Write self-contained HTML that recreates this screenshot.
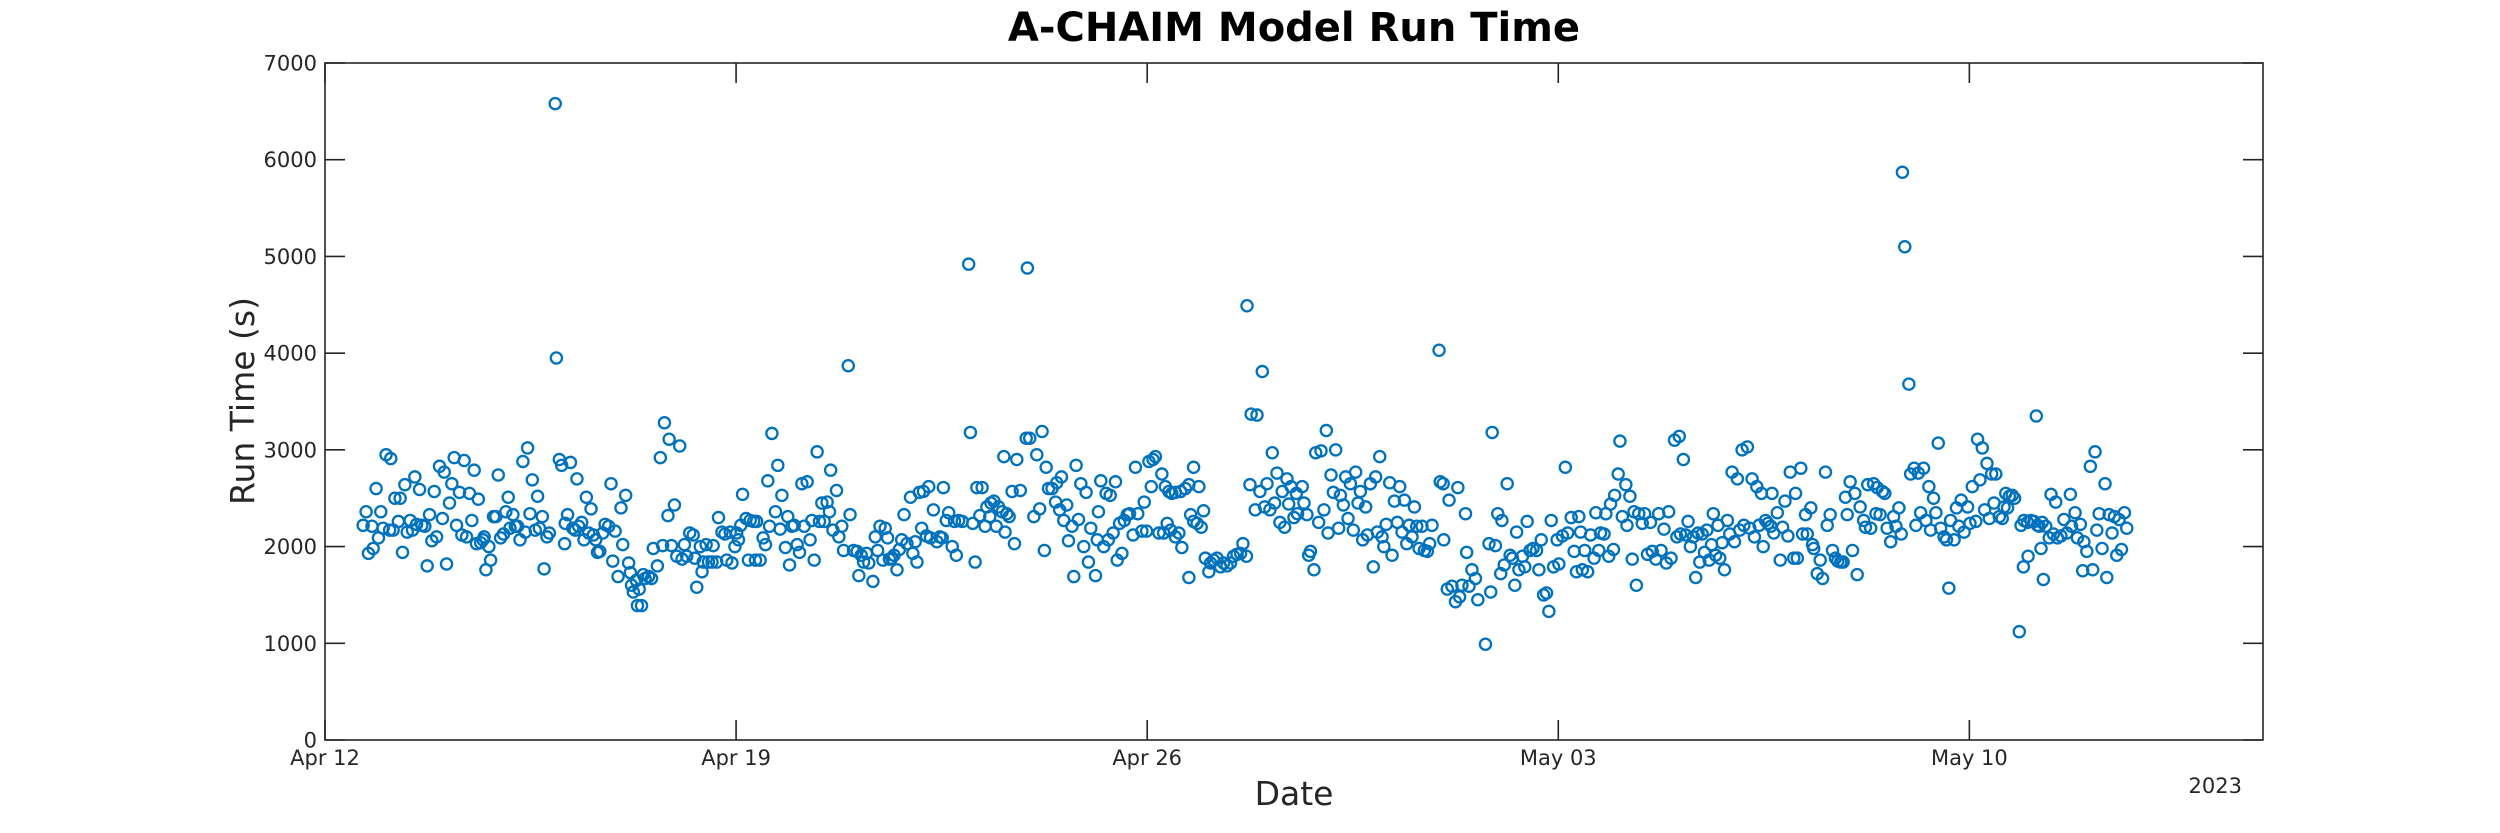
<!DOCTYPE html>
<html>
<head>
<meta charset="utf-8">
<style>
  html,body{margin:0;padding:0;background:#fff;}
  svg{display:block;font-family:"DejaVu Sans","Liberation Sans",sans-serif;}
</style>
</head>
<body>
<svg id="chart" width="2500" height="833" viewBox="0 0 2500 833" xmlns="http://www.w3.org/2000/svg">
  <rect x="0" y="0" width="2500" height="833" fill="#ffffff"/>
  <text x="1294" y="41" text-anchor="middle" font-size="40" font-weight="bold" fill="#000">A-CHAIM Model Run Time</text>
  <g id="ticks"></g>
  <g id="points"></g>
  <rect x="325" y="63" width="1938" height="677" fill="none" stroke="#262626" stroke-width="1.6"/>
  <text x="1294" y="805" text-anchor="middle" font-size="33" fill="#262626">Date</text>
  <text x="2242" y="793" text-anchor="end" font-size="21" fill="#262626">2023</text>
  <text transform="translate(254,401) rotate(-90)" text-anchor="middle" font-size="33" fill="#262626">Run Time (s)</text>
</svg>
<script>
// Days since Apr 12 2023 00:00
const days = [
0.65,0.70,0.74,0.80,0.82,0.87,0.91,0.95,0.99,1.04,1.10,1.12,1.16,1.19,1.25,1.28,1.32,1.36,1.40,1.45,1.49,1.53,1.56,1.61,1.65,1.70,1.74,1.78,1.82,1.86,1.90,1.95,2.00,2.03,2.07,2.12,2.16,2.20,2.24,2.29,2.33,2.37,2.41,2.46,2.50,2.54,2.58,2.61,2.65,2.69,2.71,2.74,2.79,2.82,2.87,2.91,2.95,2.99,3.04,3.08,3.12,3.15,3.20,3.24,3.28,3.32,3.37,3.41,3.45,3.49,3.53,3.58,3.62,3.65,3.70,3.73,3.78,3.82,3.92,3.94,3.99,4.03,4.08,4.09,4.13,4.18,4.22,4.26,4.29,4.32,4.37,4.41,4.45,4.49,4.53,4.57,4.61,4.64,4.68,4.73,4.77,4.83,4.87,4.90,4.94,4.99,5.04,5.07,5.12,5.17,5.20,5.22,5.25,5.30,5.32,5.35,5.39,5.42,5.45,5.51,5.56,5.59,5.66,5.71,5.75,5.78,5.84,5.86,5.90,5.95,5.99,6.04,6.08,6.12,6.16,6.21,6.27,6.30,6.33,6.39,6.42,6.44,6.49,6.53,6.59,6.61,6.67,6.70,6.76,6.81,6.84,6.90,6.93,6.98,7.01,7.04,7.08,7.11,7.17,7.21,
7.24,7.30,7.33,7.35,7.41,7.46,7.50,7.54,7.57,7.61,7.67,7.71,7.75,7.78,7.84,7.88,7.91,7.95,7.99,8.04,8.08,8.12,8.16,8.21,8.26,8.29,8.33,8.38,8.42,8.46,8.50,8.55,8.59,8.61,8.65,8.71,8.75,8.80,8.83,8.91,8.94,9.00,9.06,9.09,9.13,9.17,9.22,9.26,9.33,9.37,9.41,9.45,9.50,9.54,9.58,9.61,9.65,9.69,9.74,9.78,9.82,9.86,9.91,9.97,10.01,10.05,10.08,10.12,10.16,10.19,10.24,10.28,10.31,10.36,10.42,10.47,10.51,10.53,10.58,10.62,10.68,10.72,10.75,10.79,10.85,10.96,10.99,11.03,11.07,11.10,11.15,11.19,11.24,11.27,11.32,11.34,11.39,11.43,11.47,11.53,11.56,11.58,11.61,11.65,11.70,11.74,11.78,11.84,11.94,11.96,12.00,12.07,12.12,12.17,12.21,12.25,12.28,12.32,12.38,12.44,12.46,12.51,12.54,12.58,12.63,12.66,12.72,12.75,12.79,12.83,12.87,12.92,12.96,13.00,13.04,13.12,13.15,13.17,13.21,13.26,13.30,13.34,13.37,13.42,13.46,13.49,13.53,13.57,13.61,13.66,13.70,13.76,13.80,13.84,13.91,13.95,13.99,14.03,14.07,14.10,14.14,14.20,
14.25,14.31,14.37,14.42,14.48,14.57,14.65,14.71,14.79,14.88,14.96,14.74,14.79,14.85,14.92,14.34,14.28,14.40,14.48,14.54,14.59,14.71,14.99,15.05,15.08,15.13,15.19,15.25,15.30,15.36,15.42,15.47,15.53,15.59,15.63,15.69,15.70,15.75,15.77,15.84,15.87,15.92,15.96,16.00,16.04,16.09,16.13,16.17,16.21,16.26,16.30,16.34,16.38,16.41,16.45,16.50,16.54,16.56,16.64,16.67,16.72,16.75,16.78,16.84,16.87,16.92,16.96,17.01,17.05,17.08,17.13,17.17,17.21,17.26,17.29,17.34,17.38,17.42,17.46,17.51,17.55,17.59,17.63,17.67,17.72,17.75,17.80,17.85,17.89,17.92,17.96,18.00,18.03,18.07,18.13,18.17,18.21,18.26,18.30,18.34,18.38,18.42,18.46,18.51,18.55,18.59,18.63,18.68,18.72,18.77,18.81,18.85,18.97,18.99,19.04,19.05,19.11,19.14,19.19,19.25,19.29,19.32,19.36,19.42,19.44,19.48,19.53,19.59,19.63,19.76,19.82,19.85,19.875,19.93,19.97,20.02,20.04,20.08,20.13,20.18,20.22,20.26,20.29,20.33,20.39,20.43,20.47,20.52,20.57,20.63,20.67,20.71,20.75,20.80,20.84,20.88,20.92,20.98,21.01,21.07,21.12,21.16,21.22,21.27,21.31,21.35,
21.38,21.41,21.45,21.50,21.55,21.61,21.64,21.69,21.72,21.78,21.81,21.86,21.89,21.94,21.96,22.02,22.05,22.09,22.15,22.17,22.22,22.26,22.29,22.33,22.37,22.43,22.47,22.52,22.57,22.60,22.66,22.71,22.75,22.80,22.84,22.88,22.92,22.98,23.02,23.06,23.08,23.13,23.17,23.21,23.25,23.30,23.34,23.38,23.41,23.45,23.49,23.53,23.57,23.61,23.64,23.68,23.72,23.75,23.79,23.83,23.88,23.92,23.96,24.00,24.05,24.09,24.13,24.16,24.22,24.26,24.30,24.34,24.38,24.42,24.46,24.49,24.53,24.57,24.62,24.64,24.67,24.73,24.78,24.82,24.86,24.91,24.95,25.01,25.04,25.07,25.13,25.16,25.21,25.24,25.30,25.33,25.35,25.41,25.46,25.50,25.55,25.58,25.63,25.67,25.72,25.76,25.81,25.85,25.89,25.92,25.97,26.01,26.05,26.09,26.14,26.20,26.23,26.27,26.32,26.37,26.41,26.43,26.48,26.52,26.56,26.60,26.66,26.71,26.75,26.80,26.84,26.86,26.90,26.97,27.00,27.06,27.09,27.13,27.17,27.22,27.26,27.31,27.34,27.39,27.43,27.47,27.51,27.57,27.61,27.65,27.68,27.74,27.78,27.82,27.86,27.91,27.97,28.01,28.05,28.11,28.14,28.18,28.22,28.26,28.30,28.34,28.38,28.42,28.45,28.51,
28.56,28.59,28.62,28.65,28.68,28.73,28.77,28.85,28.88,28.92,28.93,28.99,29.00,29.05,29.10,29.14,29.16,29.19,29.22,29.24,29.26,29.30,29.36,29.39,29.43,29.47,29.50,29.56,29.61,29.66,29.72,29.74,29.80,29.84,29.89,29.93,29.95,30.00,30.06,30.10,30.14,30.17,30.21,30.26,30.31,30.34,30.38,30.43,30.47,30.51,30.55,30.59,30.64,30.68
];
// Run time in seconds
const runTimes = [
2220,2360,1930,2210,1980,2600,2090,2360,2190,2950,2170,2910,2170,2500,2260,2500,1940,2640,2150,2270,2170,2720,2230,2590,2220,2210,1800,2330,2060,2570,2100,2830,2290,2770,1820,2450,2650,2920,2220,2560,2120,2890,2100,2550,2270,2790,2030,2490,2040,2070,2100,1760,2000,1860,2310,2310,2740,2090,2130,2360,2510,2190,2330,2210,2210,2070,2880,2150,3020,2340,2690,2170,2520,2190,2310,1770,2100,2140,6580,3950,2900,2840,2030,2240,2330,2870,2190,2170,2700,2210,2250,2070,2510,2140,2390,2120,2070,1940,1950,2140,2230,2210,2650,1850,2160,1690,2400,2020,2530,1830,1730,1600,1530,1650,1390,1560,1390,1710,1670,1690,1670,1980,1800,2920,2010,3280,2320,3110,2010,2430,1900,3040,1870,2020,1900,2140,2120,1880,1580,2000,1740,1840,2020,1840,1840,2010,1840,2300,2150,2130,1860,2150,1830,2000,2140,2070,2220,2540,2290,1860,
2270,2260,1860,2260,1860,2090,2020,2680,2210,3170,2360,2840,2180,2530,1990,2310,1810,2210,2220,2020,1940,2650,2210,2670,2070,2270,1860,2980,2260,2450,2260,2460,2360,2790,2170,2580,2100,2210,1960,3870,2330,1960,1950,1700,1910,1840,1930,1830,1640,2100,1960,2210,1860,2190,2090,1870,1880,1910,1760,1970,2070,2330,2030,2510,1930,2050,1840,2560,2190,2570,2110,2620,2090,2380,2050,2100,2090,2610,2270,2350,2000,2260,1910,2270,2260,4920,3180,2240,1840,2610,2320,2610,2210,2410,2310,2450,2470,2210,2410,2360,2930,2150,2340,2310,2570,2030,2900,2580,3120,4880,3120,2310,2950,2390,3190,1960,2820,2600,2600,2460,2660,2380,2720,2270,2430,2060,2210,1690,2840,2280,2650,2000,2560,1840,2190,1700,2070,2360,2680,2000,2550,2070,2530,2140,2670,1860,2240,1930,2270,2330,2340,2120,2820,2340,2160,2460,2160,2880,2620,2900,2930,2140,
2750,2620,2570,2550,2560,2570,2600,2640,2820,2620,2370,2330,2260,2240,2200,2240,2140,2170,2100,2140,1990,1680,1880,1740,1830,1860,1880,1790,1830,1800,1830,1900,1920,1930,2030,1900,4490,2640,3370,2380,3360,2570,3810,2410,2650,2380,2970,2450,2760,2250,2570,2200,2700,2440,2620,2300,2550,2340,2620,2450,2330,1910,1950,1760,2970,2250,2990,2380,3200,2140,2740,2560,3000,2190,2530,2430,2720,2290,2650,2170,2770,2450,2570,2070,2410,2120,2650,1790,2720,2150,2930,2100,2000,2230,2660,1910,2470,2250,2620,2150,2480,2030,2220,2100,2410,2210,1980,2210,1960,1950,2030,2220,4030,2670,2650,2070,1560,2480,1590,1430,2610,1480,1600,2340,1940,1590,1760,1670,1450,990,2030,1530,3180,2010,2340,1720,2270,1810,2650,1910,1880,1600,2150,1760,1900,1790,2260,1960,1980,1960,1760,2070,1500,1520,1330,2270,1790,2070,1820,2110,2820,2140,2300,1950,1740,2310,
2150,1760,1960,1740,2120,1880,2350,1960,2140,2130,2340,1900,2440,1970,2530,2750,3090,2310,2640,2220,2520,1870,2360,1600,2340,2240,2340,1920,2250,1950,1870,2340,1960,2180,1830,2360,1880,3100,2100,3140,2130,2900,2120,2260,2000,2100,1680,2140,1840,2130,1940,2170,1860,2020,2340,1910,2220,1880,2040,1760,2270,2130,2770,2050,2700,2170,3000,2220,3030,2190,2700,2100,2620,2220,2550,2000,2270,2240,2210,2550,2140,2350,1860,2200,2470,2110,2770,1880,2550,1880,2810,2130,2330,2130,2400,2020,1980,1720,1860,1670,2770,2220,2330,1960,1880,1850,1840,1840,2510,2330,2670,1960,2550,1710,2410,2270,2200,2640,2190,2650,2340,2610,2330,2570,2550,2190,2050,2310,2210,2400,2130,5870,5100,3680,2750,2810,2220,2760,2350,2810,2270,2620,2170,2500,2350,3070,2190,2100,2070,1570,2270,2070,2400,2210,2480,2150,2410,2240,2620,2260,3110,2690,3020,2380,2860,2290,2750,2450,2750,2310,
2290,2410,2550,2400,2520,2530,2500,1120,2220,1790,2270,2250,1900,2270,2260,3350,2220,2210,1980,2250,1660,2210,2090,2540,2130,2460,2090,2110,2280,2140,2540,2210,2350,2090,2230,1750,2050,1950,2830,1760,2980,2170,2340,1980,2650,1680,2330,2140,2310,1910,2280,1970,2350,2190
];
const yTickValues = [0,1000,2000,3000,4000,5000,6000,7000];
const xTickDays = [0,7,14,21,28];
const xTickLabels = ["Apr 12","Apr 19","Apr 26","May 03","May 10"];

const X0 = 325, X1 = 2263, Y0 = 740, Y1 = 63;
const DMIN = 0, DMAX = 33, VMIN = 0, VMAX = 7000;
const NS = "http://www.w3.org/2000/svg";
function xScale(d){ return X0 + (d - DMIN) / (DMAX - DMIN) * (X1 - X0); }
function yScale(v){ return Y0 - (v - VMIN) / (VMAX - VMIN) * (Y0 - Y1); }
function mk(tag, attrs){ const e = document.createElementNS(NS, tag); for (const k in attrs) e.setAttribute(k, attrs[k]); return e; }

const tg = document.getElementById('ticks');
const TL = 20;
yTickValues.forEach(v => {
  const y = yScale(v);
  const l1 = mk('line', {x1:X0, x2:X0+TL, y1:y, y2:y, stroke:'#262626', 'stroke-width':1.6});
  
  
  tg.appendChild(l1);
  const l2 = mk('line', {x1:X1-TL, x2:X1, y1:y, y2:y, stroke:'#262626', 'stroke-width':1.6});
  
  
  tg.appendChild(l2);
  const t = mk('text', {x:317, y:y+7.5, 'text-anchor':'end', 'font-size':21, fill:'#262626'});
  t.textContent = String(v);
  
  
  tg.appendChild(t);
});
xTickDays.forEach((d, i) => {
  const x = xScale(d);
  const l1 = mk('line', {x1:x, x2:x, y1:Y0, y2:Y0-TL, stroke:'#262626', 'stroke-width':1.6});
  
  
  tg.appendChild(l1);
  const l2 = mk('line', {x1:x, x2:x, y1:Y1, y2:Y1+TL, stroke:'#262626', 'stroke-width':1.6});
  
  
  tg.appendChild(l2);
  const t = mk('text', {x:x, y:765, 'text-anchor':'middle', 'font-size':21, fill:'#262626'});
  t.textContent = xTickLabels[i];
  
  
  tg.appendChild(t);
});

const pg = document.getElementById('points');
for (let i = 0; i < days.length; i++) {
  const c = mk('circle', {cx:xScale(days[i]), cy:yScale(runTimes[i]), r:5.6, fill:'none', stroke:'#0072BD', 'stroke-width':2.3});
  
  
  pg.appendChild(c);
}
</script>
</body>
</html>
